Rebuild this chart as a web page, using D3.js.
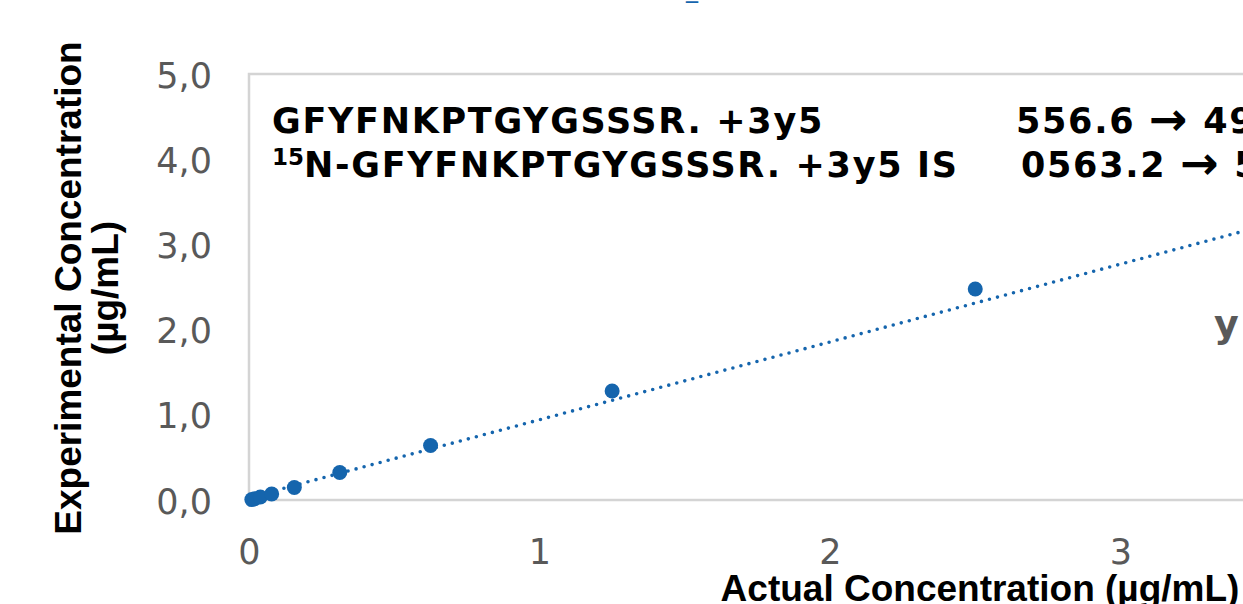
<!DOCTYPE html>
<html>
<head>
<meta charset="utf-8">
<script src="https://cdn.jsdelivr.net/npm/d3@7"></script>
<style>
  html, body { margin: 0; padding: 0; background: #fff; overflow: hidden; }
</style>
</head>
<body>
<svg id="canvas"></svg>
<script>
// calibration points (µg/mL)
let actual = [0.0098, 0.0195, 0.039, 0.078, 0.156, 0.3125, 0.625, 1.25, 2.5]
let experimental = [0.005, 0.015, 0.035, 0.07, 0.147, 0.323, 0.64, 1.279, 2.477]

let xTicks = [0, 1, 2, 3, 4]
let yTicks = [0, 1, 2, 3, 4, 5]

// linear trendline as shown on the chart
let slope = 0.9134
let intercept = 0.0283
let equation = 'y = 0,9134x + 0,0283'

let titleText = ['Calibration', '_Curve']
let labelLines = [
    ['GFYFNKPTGYGSSSR. +3y5', '556.6', '496.2'],
    ['N-GFYFNKPTGYGSSSR. +3y5 IS', '0563.2', '502.2']
]

let width = 1243
let height = 604
let blue = '#1565ad'
let grey = '#595959'

let svg = d3.select('#canvas')
    .attr('width', width)
    .attr('height', height)

let xScale = d3.scaleLinear().domain([0, 4]).range([249, 249 + 4 * 290.5])
let yScale = d3.scaleLinear().domain([0, 5]).range([500, 74])

// plot area border
svg.append('rect')
    .attr('x', xScale(0))
    .attr('y', yScale(5))
    .attr('width', xScale(4) - xScale(0))
    .attr('height', yScale(0) - yScale(5))
    .attr('fill', 'none')
    .attr('stroke', '#d4d4d4')
    .attr('stroke-width', 2.5)

// axes (labels only)
let xAxis = d3.axisBottom(xScale).tickValues(xTicks).tickSize(0).tickPadding(0).tickFormat(d3.format('d'))
let yAxis = d3.axisLeft(yScale).tickValues(yTicks).tickSize(0).tickPadding(0).tickFormat((d) => d3.format('.1f')(d).replace('.', ','))

let gx = svg.append('g').attr('transform', 'translate(0,' + (yScale(0) + 64) + ')').call(xAxis)
let gy = svg.append('g').attr('transform', 'translate(212,13)').call(yAxis)

for (let g of [gx, gy]) {
    g.select('.domain').remove()
    g.selectAll('text')
        .attr('fill', grey)
        .attr('dy', null)
        .style('font-family', 'DejaVu Sans, Verdana, sans-serif')
        .style('font-size', '35px')
}

// trendline
let trend = [actual[0], 4.5].map((x) => [x, slope * x + intercept])
svg.append('path')
    .attr('d', d3.line().x((d) => xScale(d[0])).y((d) => yScale(d[1]))(trend))
    .attr('fill', 'none')
    .attr('stroke', blue)
    .attr('stroke-width', 3.6)
    .attr('stroke-linecap', 'round')
    .attr('stroke-dasharray', '0 8.3')

// points
svg.selectAll('circle.pt')
    .data(actual)
    .enter()
    .append('circle')
    .attr('class', 'pt')
    .attr('cx', (d) => xScale(d))
    .attr('cy', (d, i) => yScale(experimental[i]))
    .attr('r', 7.5)
    .attr('fill', blue)

// peptide annotation
let ann = svg.append('g')
    .style('font-family', 'DejaVu Sans, Verdana, sans-serif')
    .style('font-weight', 'bold')
    .style('font-size', '35px')
    .style('letter-spacing', '1.7px')
    .attr('fill', '#000')

let addTransition = (text, x, parts) => {
    text.append('tspan').attr('x', x).text(parts[1] + ' ')
    text.append('tspan').attr('font-size', '46px').attr('dy', 2).text('\u2192')
    text.append('tspan').attr('dy', -2).text(' ' + parts[2])
}

let t1 = ann.append('text').attr('x', 272).attr('y', 133)
t1.append('tspan').text(labelLines[0][0])
addTransition(t1, 1016, labelLines[0])

let t2 = ann.append('text').attr('x', 272).attr('y', 177)
t2.append('tspan').attr('font-size', '23px').attr('dy', -12).style('letter-spacing', '0px').text('15')
t2.append('tspan').attr('dy', 12).text(labelLines[1][0])
addTransition(t2, 1021, labelLines[1])

// equation (mostly outside the view)
svg.append('text')
    .attr('x', 1214)
    .attr('y', 337)
    .attr('fill', grey)
    .style('font-family', 'DejaVu Sans, Verdana, sans-serif')
    .style('font-weight', 'bold')
    .style('font-size', '38px')
    .text(equation)

// chart title (cut off at the top)
let title = svg.append('text')
    .attr('y', -3.5)
    .attr('fill', blue)
    .style('font-family', 'DejaVu Sans, Verdana, sans-serif')
    .style('font-size', '24px')
let tA = title.append('tspan').text(titleText[0])
title.append('tspan').text(titleText[1])
title.attr('x', 686 - tA.node().getComputedTextLength())

// axis titles
svg.append('text')
    .attr('x', 980)
    .attr('y', 601)
    .attr('text-anchor', 'middle')
    .style('font-family', 'Liberation Sans, Arial, sans-serif')
    .style('font-weight', 'bold')
    .style('font-size', '37px')
    .text('Actual Concentration (µg/mL)')

let yt = svg.append('text')
    .attr('transform', 'translate(81,288) rotate(-90)')
    .attr('text-anchor', 'middle')
    .style('font-family', 'Liberation Sans, Arial, sans-serif')
    .style('font-weight', 'bold')
    .style('font-size', '37px')
yt.append('tspan').attr('x', 0).attr('y', 0).text('Experimental Concentration')
yt.append('tspan').attr('x', 0).attr('y', 37).text('(µg/mL)')
</script>
</body>
</html>
